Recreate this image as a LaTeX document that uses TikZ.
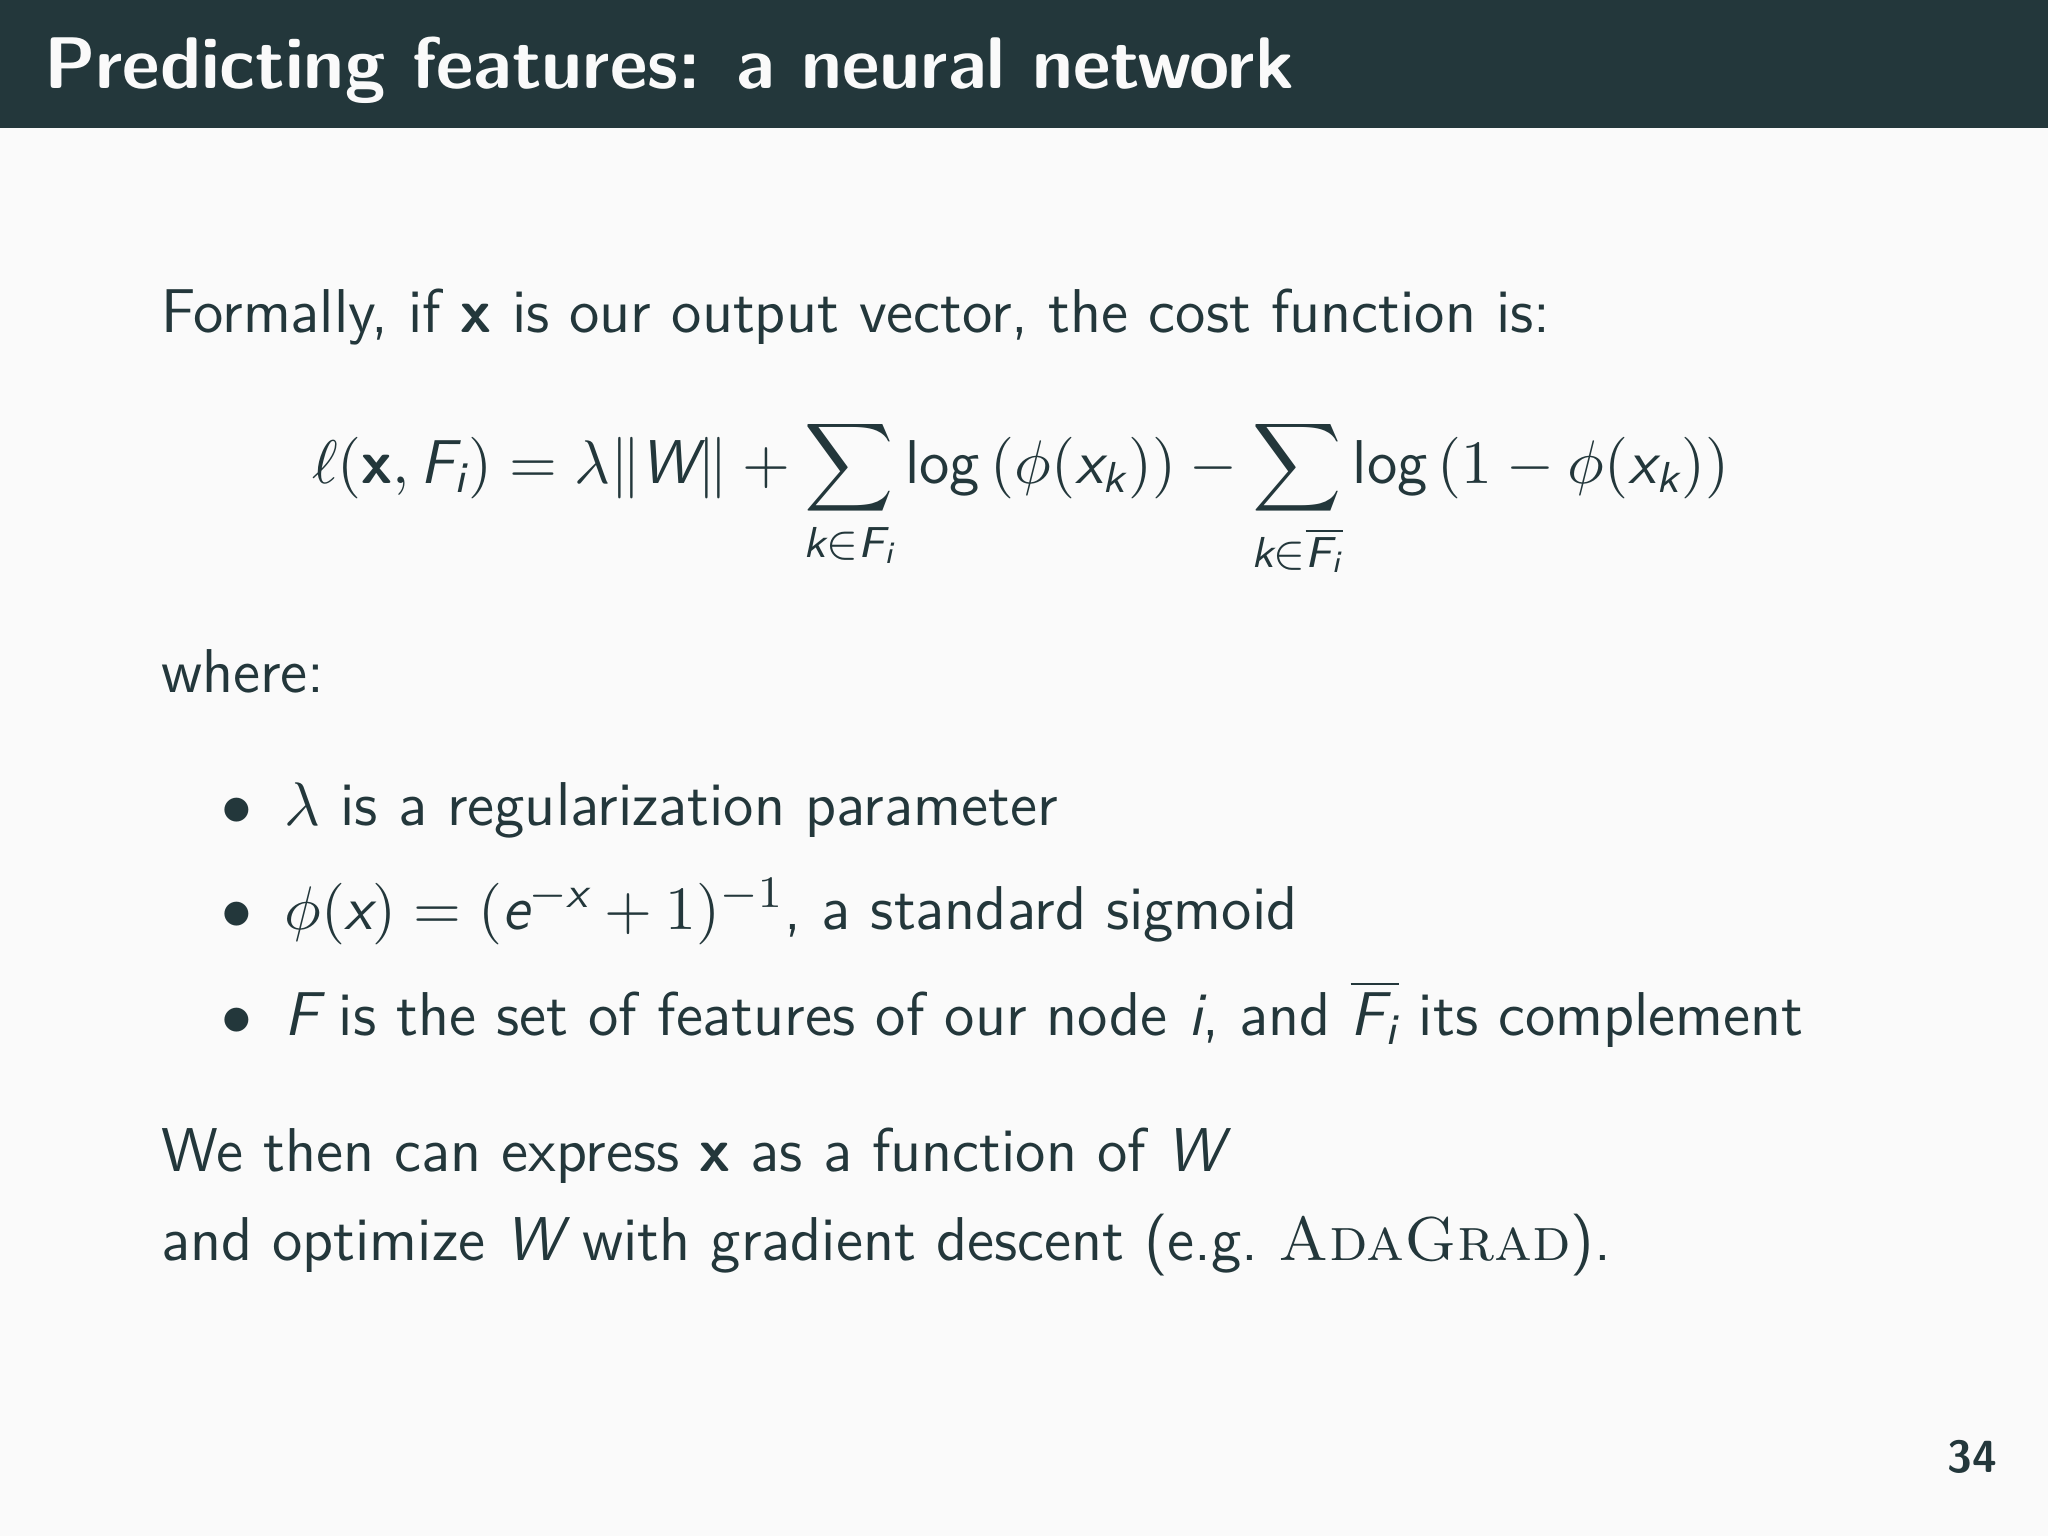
\documentclass[tikz,border=0pt]{standalone}
\usepackage{amsmath,amssymb}
\definecolor{mDark}{HTML}{23373B}
\definecolor{mBg}{HTML}{FAFAFA}
\newcommand\sv[1]{\text{\sffamily\itshape #1}}
\newcommand\sx{\text{\sffamily\bfseries x}}
\newcommand\su[1]{\text{\sffamily #1}}
\begin{document}
\begin{tikzpicture}[y=-1cm,
  txt/.style={anchor=base west,inner sep=0pt,text=mDark,font=\sffamily\fontsize{11}{13}\selectfont}]
\useasboundingbox (0,0) rectangle (12.8,9.6);
\fill[mBg] (0,0) rectangle (12.8,9.6);
\fill[mDark] (0,0) rectangle (12.8,0.8);
\node[anchor=base west,inner sep=0pt,text=mBg,font=\sffamily\bfseries\fontsize{13}{15}\selectfont] (title) at (0.27,0.555) {Predicting features: a neural network};
\node[txt] (l1) at (1.0,2.08) {Formally, if {\bfseries x} is our output vector, the cost function is:};
\node[anchor=base,inner sep=0pt,text=mDark,font=\fontsize{11}{13}\selectfont] (eq) at (6.38,3.02)
 {$\displaystyle \ell(\sx,\sv{F}_{\sv{i}})=\lambda\|\sv{W}\|+\sum_{\sv{k}\in \sv{F}_{\sv{i}}}\su{log}\left(\phi(\sv{x}_{\sv{k}})\right)-\sum_{\sv{k}\in\overline{\sv{F}_{\sv{i}}}}\su{log}\left(1-\phi(\sv{x}_{\sv{k}})\right)$};
\node[txt] (where) at (1.0,4.33) {where:};
\node[txt] (b1m) at (1.38,5.16) {$\bullet$};
\node[txt] (b1) at (1.77,5.16) {$\lambda$ is a regularization parameter};
\node[txt] (b2m) at (1.38,5.81) {$\bullet$};
\node[txt] (b2) at (1.77,5.81) {$\phi(\sv{x})=(\sv{e}^{-\sv{x}}+1)^{-1}$, a standard sigmoid};
\node[txt] (b3m) at (1.38,6.47) {$\bullet$};
\node[txt] (b3) at (1.77,6.47) {$\sv{F}$ is the set of features of our node $\sv{i}$, and $\overline{\sv{F}_{\sv{i}}}$ its complement};
\node[txt] (w1) at (1.0,7.32) {We then can express {\bfseries x} as a function of $\sv{W}$};
\node[txt] (w2) at (1.0,7.88) {and optimize $\sv{W}$ with gradient descent (e.g.\ {\rmfamily\scshape AdaGrad}).};
\node[anchor=base east,inner sep=0pt,text=mDark,font=\sffamily\bfseries\fontsize{8}{10}\selectfont] (pg) at (12.49,9.2) {34};
\end{tikzpicture}
\end{document}
